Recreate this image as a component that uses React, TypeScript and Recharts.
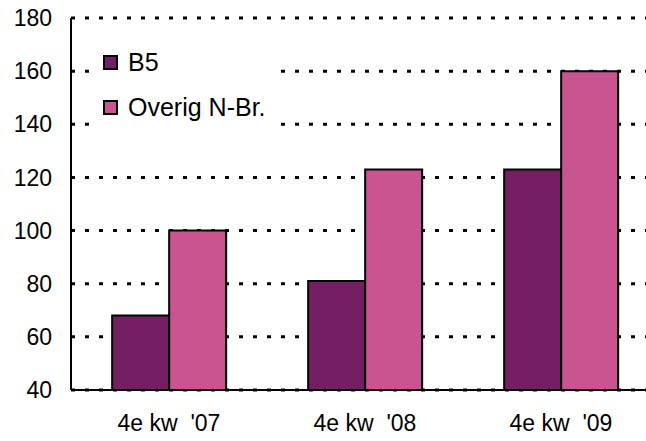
import { Bar, BarChart, CartesianGrid, Legend, XAxis, YAxis } from "recharts";

const quarters = ["4e kw\u00A0 '07", "4e kw\u00A0 '08", "4e kw\u00A0 '09"];
const b5 = [68, 81, 123];
const overig = [100, 123, 160];
const yTicks = [40, 60, 80, 100, 120, 140, 160, 180];

const data = quarters.map((q, i) => ({ q, b5: b5[i], overig: overig[i] }));

const font = "'Liberation Sans', Arial, Helvetica, sans-serif";

function LegendBox({ payload }: any) {
  return (
    <div style={{ background: "#fff", padding: "10px 11px" }}>
      {(payload || []).map((p: any) => (
        <div
          key={p.value}
          style={{ display: "flex", alignItems: "center", height: 45, fontSize: 25, color: "#000" }}
        >
          <span
            style={{
              width: 11,
              height: 11,
              background: p.color,
              border: "2px solid #000",
              marginRight: 10,
              display: "inline-block",
              flex: "none",
            }}
          />
          {p.value}
        </div>
      ))}
    </div>
  );
}

export default function App() {
  return (
    <div style={{ position: "absolute", left: 0, top: 0, fontFamily: font }}>
      <BarChart
        width={646}
        height={441}
        data={data}
        margin={{ top: 18, right: -13, left: 0, bottom: 0 }}
        barCategoryGap="21%"
        barGap={0}
      >
        <CartesianGrid
          vertical={false}
          stroke="#000"
          strokeWidth={3}
          strokeDasharray="4 10"
        />
        <XAxis
          dataKey="q"
          height={51}
          tickLine={false}
          tickMargin={19}
          axisLine={{ stroke: "#000", strokeWidth: 2 }}
          tick={{ fill: "#000", fontSize: 23, fontFamily: font }}
        />
        <YAxis
          width={71}
          domain={[40, 180]}
          ticks={yTicks}
          allowDataOverflow
          tickLine={false}
          tickMargin={13}
          axisLine={{ stroke: "#000", strokeWidth: 2 }}
          tick={{ fill: "#000", fontSize: 23, fontFamily: font }}
        />
        <Legend
          layout="vertical"
          align="center"
          verticalAlign="middle"
          content={<LegendBox />}
          wrapperStyle={{ left: 92, top: 30, width: 185 }}
        />
        <Bar
          dataKey="b5"
          name="B5"
          fill="#741E63"
          stroke="#000"
          strokeWidth={2}
          isAnimationActive={false}
        />
        <Bar
          dataKey="overig"
          name="Overig N-Br."
          fill="#C85590"
          stroke="#000"
          strokeWidth={2}
          isAnimationActive={false}
        />
      </BarChart>
    </div>
  );
}
